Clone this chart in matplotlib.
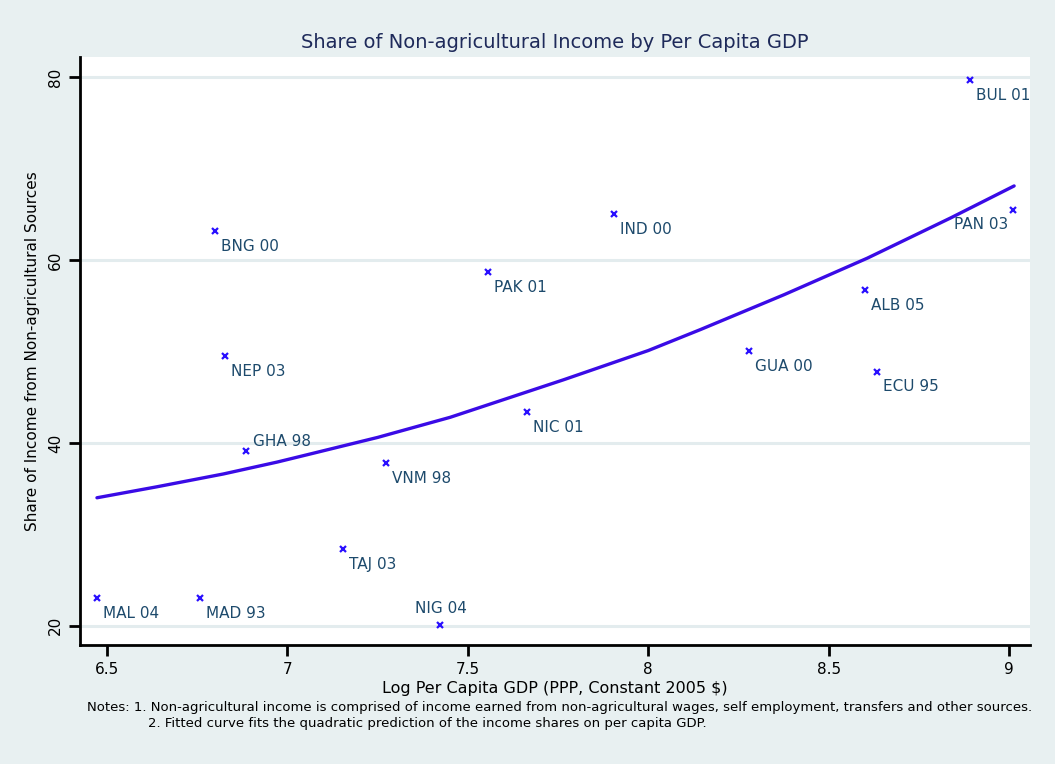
import matplotlib
matplotlib.use("Agg")
import matplotlib.pyplot as plt

labels = ["BUL 01", "PAN 03", "IND 00", "BNG 00", "PAK 01", "ALB 05", "GUA 00",
          "NEP 03", "ECU 95", "NIC 01", "GHA 98", "VNM 98", "TAJ 03", "MAL 04",
          "MAD 93", "NIG 04"]
log_gdp = [8.891, 9.010, 7.904, 6.800, 7.557, 8.600, 8.278,
           6.827, 8.633, 7.665, 6.886, 7.274, 7.155, 6.472,
           6.758, 7.424]
nonag_share = [79.7, 65.5, 65.0, 63.2, 58.7, 56.7, 50.0,
               49.5, 47.8, 43.4, 39.1, 37.8, 28.4, 23.0,
               23.0, 20.1]

# fitted quadratic curve at several points
fit_x = [6.472, 6.638, 6.822, 6.971, 7.054, 7.25, 7.451, 7.765,
         7.868, 8.0, 8.145, 8.376, 8.607, 8.838, 9.014]
fit_y = [34.0, 35.2, 36.6, 37.9, 38.7, 40.6, 42.8, 46.9,
         48.3, 50.1, 52.4, 56.2, 60.2, 64.6, 68.1]

xticks = [6.5, 7, 7.5, 8, 8.5, 9]
yticks = [20, 40, 60, 80]

# where each label sits relative to its marker (offset in points, alignment)
label_pos = {"PAN 03": (-3, -11, "right"),
             "NIG 04": (0, 11.5, "center"),
             "GHA 98": (5, 7, "left")}
default_pos = (4.3, -11, "left")

bg = "#e8f0f1"
label_col = "#1d4a6c"

fig = plt.figure(figsize=(10.55, 7.64), dpi=100, facecolor=bg)
ax = fig.add_axes([80/1055, 1 - 645/764, 950/1055, 588/764])
ax.set_facecolor("white")

for y in yticks:
    ax.axhline(y, color="#e3ecee", lw=2.2, zorder=0)

ax.plot(log_gdp, nonag_share, ls="none", marker="x", ms=4, mew=1.6,
        color="#2a10ff", zorder=3)
ax.plot(fit_x, fit_y, color="#3a0be6", lw=2.4, zorder=2,
        solid_joinstyle="round", solid_capstyle="round")

for lab, x, y in zip(labels, log_gdp, nonag_share):
    dx, dy, ha = label_pos.get(lab, default_pos)
    ax.annotate(lab, (x, y), xytext=(dx, dy), textcoords="offset points",
                ha=ha, va="center", fontsize=11, color=label_col)

ax.set_xlim(6.425, 9.058)
ax.set_ylim(17.9, 82.2)
ax.set_xticks(xticks)
ax.set_xticklabels(["6.5", "7", "7.5", "8", "8.5", "9"])
ax.set_yticks(yticks)
ax.set_yticklabels([str(v) for v in yticks], rotation=90, va="center")
ax.tick_params(axis="both", length=8, width=2, labelsize=11, pad=4,
               color="black", labelcolor="black")

for s in ["top", "right"]:
    ax.spines[s].set_visible(False)
for s in ["left", "bottom"]:
    ax.spines[s].set_linewidth(2)

ax.set_xlabel("Log Per Capita GDP (PPP, Constant 2005 $)", fontsize=11.5,
              color="black", labelpad=3)
ax.set_ylabel("Share of Income from Non-agricultural Sources", fontsize=11,
              color="black", labelpad=6)

fig.text(555/1055, 1 - 43/764, "Share of Non-agricultural Income by Per Capita GDP",
         ha="center", va="center", fontsize=14, color="#1e2a5a")

fig.text(87/1055, 1 - 708/764,
         "Notes: 1. Non-agricultural income is comprised of income earned from "
         "non-agricultural wages, self employment, transfers and other sources.",
         ha="left", va="center", fontsize=9.5, color="black")
fig.text(148/1055, 1 - 723/764,
         "2. Fitted curve fits the quadratic prediction of the income shares on per capita GDP.",
         ha="left", va="center", fontsize=9.5, color="black")

fig.savefig("out.png", dpi=100, facecolor=bg)
